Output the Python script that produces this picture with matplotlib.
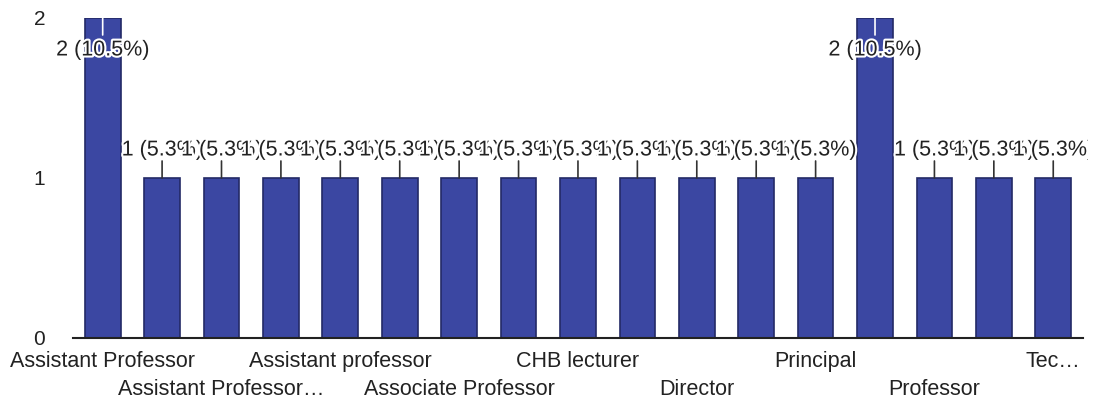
import matplotlib.pyplot as plt
import matplotlib.patheffects as pe
from matplotlib.transforms import Bbox, TransformedBbox

# Risposte per ruolo (solo le etichette visibili sull'asse)
tick_labels = ["Assistant Professor", "", "Assistant Professor…", "",
               "Assistant professor", "", "Associate Professor", "",
               "CHB lecturer", "", "Director", "", "Principal", "",
               "Professor", "", "Tec…"]
counts = [2, 1, 1, 1, 1, 1, 1, 1, 1, 1, 1, 1, 1, 2, 1, 1, 1]

total = sum(counts)
plt.rcParams['font.family'] = ['Liberation Sans', 'DejaVu Sans']

fig = plt.figure(figsize=(10.99, 4.08), dpi=100)
ax = fig.add_axes([0.0664, 0.1716, 0.919, 0.7843])

x = list(range(len(counts)))
ax.bar(x, counts, width=0.6, color='#3b47a2', edgecolor='#232a66', linewidth=1.2, zorder=2)

ax.set_xlim(-0.5, len(counts) - 0.5)
ax.set_ylim(0, max(counts))
ax.set_yticks([0, 1, 2])
ax.tick_params(axis='y', length=0, pad=20, labelsize=15, colors='#222222')
ax.set_xticks(x)
ax.set_xticklabels([])
ax.tick_params(axis='x', length=0)

for s in ['top', 'right', 'left']:
    ax.spines[s].set_visible(False)
ax.spines['bottom'].set_color('#222222')
ax.spines['bottom'].set_linewidth(1.5)
ax.spines['bottom'].set_zorder(3)

# etichette categorie su due righe alternate
visible = [i for i, t in enumerate(tick_labels) if t]
for k, i in enumerate(visible):
    ax.annotate(tick_labels[i], xy=(i, 0), xytext=(0, -24 if k % 2 == 0 else -52),
                textcoords='offset pixels', ha='center', va='center',
                fontsize=15.5, color='#222222', annotation_clip=False)

# annotazioni valore (percentuale), sopra o dentro la barra
clip = TransformedBbox(Bbox([[0, 0], [0.99, 1]]), fig.transFigure)
for i, c in enumerate(counts):
    label = f"{c} ({c / total * 100:.1f}%)"
    inside = c == max(counts)
    sign = -1 if inside else 1
    stem_col = 'white' if inside else '#333333'
    ax.annotate('', xy=(i, c), xytext=(0, sign * 17), textcoords='offset pixels',
                arrowprops=dict(arrowstyle='-', color=stem_col, lw=1.2,
                                shrinkA=0, shrinkB=0), zorder=4)
    t = ax.annotate(label, xy=(i, c), xytext=(0, sign * 30 - 2), textcoords='offset pixels',
                    ha='center', va='center', fontsize=15.5, color='#222222',
                    annotation_clip=False, zorder=5,
                    path_effects=[pe.withStroke(linewidth=3, foreground='white')])
    t.set_clip_box(clip)
    t.set_clip_on(True)

fig.savefig('out.png', dpi=100)
